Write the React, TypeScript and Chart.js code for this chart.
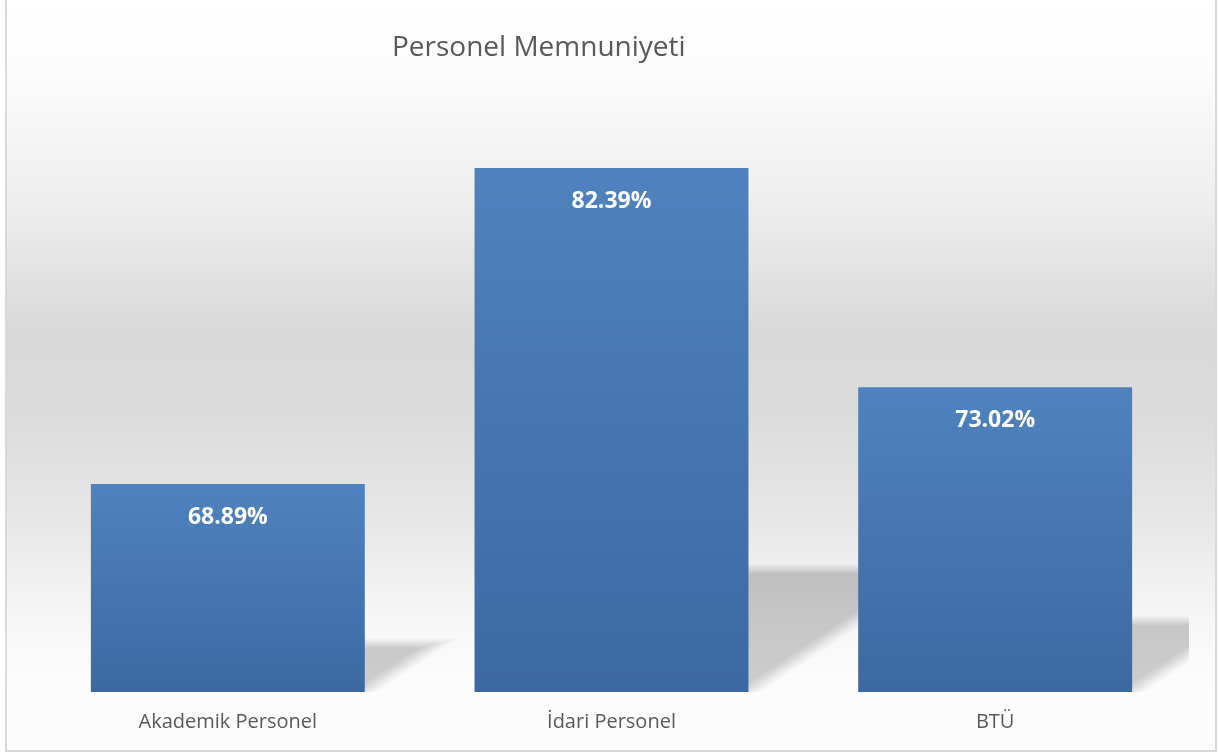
import React, { useEffect, useRef } from "react";
import { Chart, registerables } from "chart.js";

Chart.register(...registerables);

const categories = ["Akademik Personel", "İdari Personel", "BTÜ"];
const values = [68.89, 82.39, 73.02];
const valueLabels = ["68.89%", "82.39%", "73.02%"];
const chartTitle = "Personel Memnuniyeti";
const yMin = 60;
const yMax = 85;
const BAR_PCT = 0.714;

const FONT = "'Open Sans', 'Noto Sans', sans-serif";

const backgroundPlugin = {
  id: "bgFrame",
  beforeDraw(chart: any) {
    const { ctx, width, height } = chart;
    ctx.save();
    ctx.fillStyle = "#ffffff";
    ctx.fillRect(0, 0, width, height);
    const g = ctx.createLinearGradient(0, 0, 0, height);
    g.addColorStop(0, "#ffffff");
    g.addColorStop(0.08, "#fdfdfd");
    g.addColorStop(0.27, "#eeeeee");
    g.addColorStop(0.44, "#d9d9d9");
    g.addColorStop(0.56, "#dcdcdc");
    g.addColorStop(0.7, "#e8e8e8");
    g.addColorStop(0.82, "#f6f6f6");
    g.addColorStop(0.9, "#fcfcfc");
    g.addColorStop(1, "#fdfdfd");
    ctx.fillStyle = g;
    ctx.fillRect(6, 0, 1210, 750);
    ctx.strokeStyle = "#d9d9d9";
    ctx.lineWidth = 2;
    ctx.strokeRect(6, -5, 1210, 756);
    ctx.fillStyle = "#595959";
    ctx.font = `28px ${FONT}`;
    ctx.textAlign = "left";
    ctx.textBaseline = "middle";
    ctx.fillText(chartTitle, 392, 48);
    ctx.restore();
  },
};

const shadowPlugin = {
  id: "barShadows",
  beforeDatasetsDraw(chart: any) {
    const ctx = chart.ctx;
    const xs = chart.scales.x;
    const ys = chart.scales.y;
    const aL = xs.left, aR = xs.right, aT = ys.top, aB = ys.bottom;
    const catW = (aR - aL) / values.length;
    const bw = catW * BAR_PCT;
    const base = ys.getPixelForValue(yMin);
    ctx.save();
    ctx.beginPath();
    ctx.rect(aL, aT, aR - aL + 2, aB - aT);
    ctx.clip();
    const layers = 16;
    const r = 7;
    ctx.fillStyle = "rgba(0,0,0,0.013)";
    for (let k = 0; k < layers; k++) {
      const d = -r + (2 * r * k) / (layers - 1);
      values.forEach((v, i) => {
        const cx = xs.getPixelForValue(i);
        const top = ys.getPixelForValue(v);
        const left = cx - bw / 2;
        const right = cx + bw / 2;
        const h = (base - top) * 0.235 + d * 0.7;
        const s = 1.5;
        const dx = d * 1.8;
        ctx.beginPath();
        ctx.moveTo(left, base + 10);
        ctx.lineTo(right + dx - 10 * s, base + 10);
        ctx.lineTo(right + dx + h * s, base - h);
        ctx.lineTo(left + h * s, base - h);
        ctx.closePath();
        ctx.fill();
      });
    }
    ctx.restore();
  },
};

const labelPlugin = {
  id: "valueLabels",
  afterDatasetsDraw(chart: any) {
    const ctx = chart.ctx;
    const xs = chart.scales.x;
    const ys = chart.scales.y;
    ctx.save();
    ctx.fillStyle = "#ffffff";
    ctx.font = `bold 23px ${FONT}`;
    ctx.textAlign = "center";
    ctx.textBaseline = "middle";
    values.forEach((v, i) => {
      ctx.fillText(valueLabels[i], xs.getPixelForValue(i), ys.getPixelForValue(v) + 33);
    });
    ctx.restore();
  },
};

export default function App() {
  const ref = useRef<HTMLCanvasElement | null>(null);
  useEffect(() => {
    document.body.style.margin = "0";
    const canvas = ref.current!;
    const chart = new Chart(canvas, {
      type: "bar",
      data: {
        labels: categories,
        datasets: [
          {
            data: values,
            backgroundColor: (c: any) => {
              const ch = c.chart;
              if (!ch.chartArea || c.dataIndex === undefined) return "#4a7ab5";
              const ys = ch.scales.y;
              const top = ys.getPixelForValue(values[c.dataIndex]);
              const bottom = ys.getPixelForValue(yMin);
              const g = ch.ctx.createLinearGradient(0, top, 0, bottom);
              g.addColorStop(0, "#4f82be");
              g.addColorStop(1, "#3c69a2");
              return g;
            },
            borderWidth: 0,
            barPercentage: BAR_PCT,
            categoryPercentage: 1,
          },
        ],
      },
      options: {
        animation: false,
        responsive: false,
        maintainAspectRatio: false,
        layout: { padding: { top: 107, left: 36, right: 31, bottom: 1 } },
        plugins: {
          legend: { display: false },
          title: { display: false },
          tooltip: { enabled: false },
        },
        scales: {
          x: {
            grid: { display: false, drawTicks: false },
            border: { display: false },
            ticks: {
              color: "#595959",
              font: { family: FONT, size: 20 },
              padding: 18,
            },
          },
          y: {
            display: false,
            min: yMin,
            max: yMax,
          },
        },
      },
      plugins: [backgroundPlugin, shadowPlugin, labelPlugin],
    });
    return () => chart.destroy();
  }, []);
  return <canvas ref={ref} width={1218} height={753} style={{ display: "block" }} />;
}
